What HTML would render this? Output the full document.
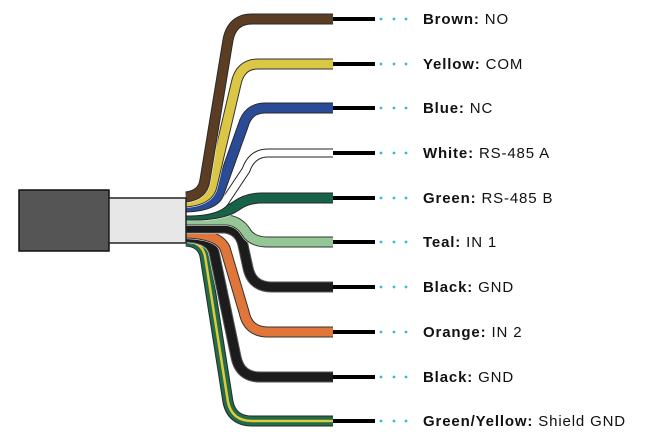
<!DOCTYPE html>
<html><head><meta charset="utf-8"><style>
html,body{margin:0;padding:0;background:#fff;}
svg{display:block}
text{font-family:"Liberation Sans",sans-serif;font-size:15px;fill:#111;letter-spacing:0.85px}
.b{font-weight:bold}
</style></head><body>
<svg width="648" height="442" viewBox="0 0 648 442" xmlns="http://www.w3.org/2000/svg">
<g fill="none" stroke-linecap="butt" stroke-linejoin="round">
<defs>
<path id="w1" d="M186,197 Q203,195 205,180 L228,40 Q232,19 252,19 L333,19"/>
<path id="w2" d="M186,202 Q209,200 212,186 L236,84 Q240,64 258,64 L333,64"/>
<path id="w3" d="M186,207 Q215,206 219,193 L243,126 Q248,108 265,108 L333,108"/>
<path id="w4" d="M186,212 Q220,212 226,200 L246,170 Q252,153 268,153 L333,153"/>
<path id="w5" d="M186,215 Q222,216 236,206 Q247,198 262,198 L333,198"/>
<path id="w6" d="M186,220 L228,220 Q240,222 246,232 Q252,242 268,242 L333,242"/>
<path id="w7" d="M186,228 L225,228 Q240,230 243,245 L248,268 Q252,287 272,287 L333,287"/>
<path id="w8" d="M186,233 Q218,234 225,248 L244,312 Q248,332 268,332 L333,332"/>
<path id="w9" d="M186,237 Q210,238 214,252 L236,357 Q240,377 260,377 L333,377"/>
<path id="w10" d="M186,241 Q202,242 205,256 L228,402 Q232,421 252,421 L333,421"/>
</defs>
<use href="#w10" stroke="#2a2a2a" stroke-width="11"/><use href="#w10" stroke="#1f6b4a" stroke-width="9"/><use href="#w10" stroke="#e2c93a" stroke-width="2.5"/>
<use href="#w9" stroke="#fff" stroke-width="12"/><use href="#w9" stroke="#555" stroke-width="11"/><use href="#w9" stroke="#1c1c1c" stroke-width="9"/>
<use href="#w8" stroke="#fff" stroke-width="12"/><use href="#w8" stroke="#333" stroke-width="11"/><use href="#w8" stroke="#e0763a" stroke-width="9"/>
<use href="#w7" stroke="#fff" stroke-width="12"/><use href="#w7" stroke="#555" stroke-width="11"/><use href="#w7" stroke="#1c1c1c" stroke-width="9"/>
<use href="#w6" stroke="#fff" stroke-width="12"/><use href="#w6" stroke="#333" stroke-width="11"/><use href="#w6" stroke="#95c796" stroke-width="9"/>
<use href="#w5" stroke="#fff" stroke-width="12"/><use href="#w5" stroke="#2a2a2a" stroke-width="11"/><use href="#w5" stroke="#17634a" stroke-width="9"/>
<use href="#w4" stroke="#222" stroke-width="9"/><use href="#w4" stroke="#fff" stroke-width="7"/>
<use href="#w3" stroke="#fff" stroke-width="12"/><use href="#w3" stroke="#2a2a2a" stroke-width="11"/><use href="#w3" stroke="#2a4c96" stroke-width="9"/>
<use href="#w2" stroke="#fff" stroke-width="12"/><use href="#w2" stroke="#333" stroke-width="11"/><use href="#w2" stroke="#dcc645" stroke-width="9"/>
<use href="#w1" stroke="#fff" stroke-width="12"/><use href="#w1" stroke="#2a2a2a" stroke-width="11"/><use href="#w1" stroke="#5a3d22" stroke-width="9"/>
</g>
<rect x="19" y="190" width="90" height="61" fill="#555" stroke="#111" stroke-width="1.5"/>
<rect x="109" y="198" width="77" height="45" fill="#e7e7e7" stroke="#222" stroke-width="1.5"/>
<g stroke="#000" stroke-width="4">
<line x1="333" y1="19" x2="375" y2="19"/><line x1="333" y1="64" x2="375" y2="64"/>
<line x1="333" y1="108" x2="375" y2="108"/><line x1="333" y1="153" x2="375" y2="153"/>
<line x1="333" y1="198" x2="375" y2="198"/><line x1="333" y1="242" x2="375" y2="242"/>
<line x1="333" y1="287" x2="375" y2="287"/><line x1="333" y1="332" x2="375" y2="332"/>
<line x1="333" y1="377" x2="375" y2="377"/><line x1="333" y1="421" x2="375" y2="421"/>
</g>
<g fill="#3bb4e6">
<g id="d"><circle cx="381" cy="19" r="1.4"/><circle cx="394" cy="19" r="1.4"/><circle cx="406" cy="19" r="1.4"/></g>
<use href="#d" y="45"/><use href="#d" y="89"/><use href="#d" y="134"/><use href="#d" y="179"/>
<use href="#d" y="223"/><use href="#d" y="268"/><use href="#d" y="313"/><use href="#d" y="358"/><use href="#d" y="402"/>
</g>
<text x="423" y="24"><tspan class="b">Brown:</tspan> NO</text>
<text x="423" y="69"><tspan class="b">Yellow:</tspan> COM</text>
<text x="423" y="113"><tspan class="b">Blue:</tspan> NC</text>
<text x="423" y="158"><tspan class="b">White:</tspan> RS-485 A</text>
<text x="423" y="203"><tspan class="b">Green:</tspan> RS-485 B</text>
<text x="423" y="247"><tspan class="b">Teal:</tspan> IN 1</text>
<text x="423" y="292"><tspan class="b">Black:</tspan> GND</text>
<text x="423" y="337"><tspan class="b">Orange:</tspan> IN 2</text>
<text x="423" y="382"><tspan class="b">Black:</tspan> GND</text>
<text x="423" y="426"><tspan class="b">Green/Yellow:</tspan> Shield GND</text>
</svg>
</body></html>
